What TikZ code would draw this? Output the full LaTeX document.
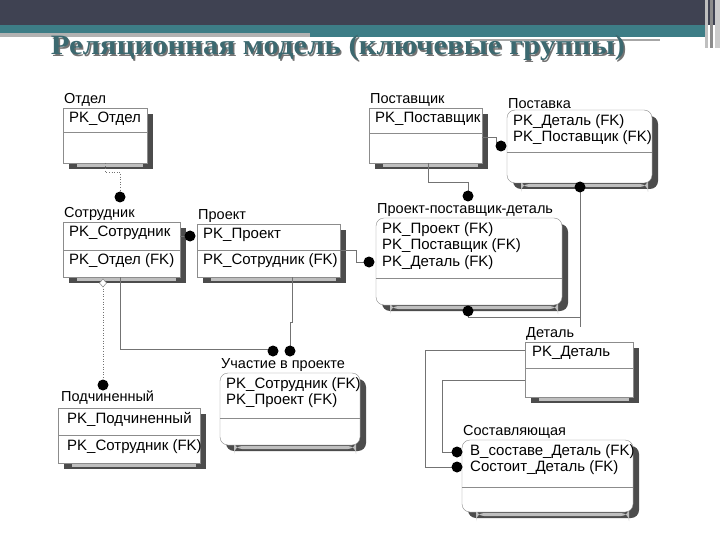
\documentclass[tikz,border=0pt]{standalone}
\usepackage{fontspec}
\setmainfont{Liberation Sans}
\newfontfamily\ttlfont{Liberation Serif}
\begin{document}
\begin{tikzpicture}[x=1pt,y=-1pt,
  lbl/.style={anchor=south west,inner sep=1pt,font=\fontsize{14.5}{16}\selectfont},
  attr/.style={anchor=north west,inner sep=1pt,align=left,font=\fontsize{15}{16.8}\selectfont},
  rel/.style={draw=black!55,line width=0.6pt},
  drel/.style={draw=black!55,line width=0.6pt,dotted},
  dotc/.style={fill=black}]
\useasboundingbox (0,0) rectangle (720,540);
\fill[white] (0,0) rectangle (720,540);
% header
\fill[fill={rgb,255:red,63;green,66;blue,82}] (0,0) rectangle (720,25);
\fill[fill={rgb,255:red,61;green,125;blue,134}] (0,25) rectangle (705,33);
\fill[black!30] (0,33) rectangle (310,37);
\fill[fill={rgb,255:red,61;green,125;blue,134}] (310,33) rectangle (705,37);
\draw[black!35,line width=1.5pt] (470,40) -- (660,40);
\fill[black!25] (705,0) rectangle (708,48);
\fill[black!45] (710,0) rectangle (713,48);
\fill[black!20] (715,0) rectangle (720,48);
\node[font=\ttlfont\bfseries\fontsize{28}{30}\selectfont,text=black!55,xscale=1.1] at (339.5,49.5) {Реляционная модель (ключевые группы)};
\node (title) [font=\ttlfont\bfseries\fontsize{28}{30}\selectfont,text={rgb,255:red,60;green,105;blue,112},xscale=1.1] at (338,48) {Реляционная модель (ключевые группы)};
% entity macro: #1 id #2 x1 #3 y1 #4 x2 #5 y2 #6 ydiv #7 corner
\newcommand\ent[7]{%
  \fill[black!70,rounded corners=#7] (#2+6,#3+6) rectangle (#4+6,#5+6);
  \fill[black!25,rounded corners=#7] (#2+14,#5+1) rectangle (#4-4,#5+4);
  \draw[black!45,fill=white,rounded corners=#7] (#2,#3) rectangle (#4,#5);
  \draw[black!45] (#2,#6) -- (#4,#6);
  \coordinate (#1) at (#2,#3);}
\ent{otd}{63}{108}{147}{163}{132}{0pt}
\node[lbl] (otdL) at (otd) {Отдел};
\node[attr] at ([shift={(5,3)}]otd) {PK\_Отдел};

\ent{sot}{63}{222}{180}{277}{250}{0pt}
\node[lbl] at (sot) {Сотрудник};
\node[attr] at ([shift={(5,3)}]sot) {PK\_Сотрудник};
\node[attr] at ([shift={(5,30)}]sot) {PK\_Отдел (FK)};

\ent{pro}{197}{224}{340}{277}{250}{0pt}
\node[lbl] at (pro) {Проект};
\node[attr] at ([shift={(5,3)}]pro) {PK\_Проект};
\node[attr] at ([shift={(5,28)}]pro) {PK\_Сотрудник (FK)};

\ent{pst}{369}{108}{482}{163}{133}{0pt}
\node[lbl] at (pst) {Поставщик};
\node[attr] at ([shift={(5,3)}]pst) {PK\_Поставщик};

\ent{pka}{507}{110}{652}{183}{152}{8pt}
\node[lbl] at (pka) {Поставка};
\node[attr] at ([shift={(5,3)}]pka) {PK\_Деталь (FK)\\PK\_Поставщик (FK)};

\ent{ppd}{376}{218}{562}{305}{278}{8pt}
\node[lbl] at (ppd) {Проект-поставщик-деталь};
\node[attr] at ([shift={(5,3)}]ppd) {PK\_Проект (FK)\\PK\_Поставщик (FK)\\PK\_Деталь (FK)};

\ent{uch}{220}{373}{360}{445}{418}{8pt}
\node[lbl] at (uch) {Участие в проекте};
\node[attr] at ([shift={(5,3)}]uch) {PK\_Сотрудник (FK)\\PK\_Проект (FK)};

\ent{pod}{58}{408}{200}{463}{435}{0pt}
\node[lbl] at ([shift={(2,-2)}]pod) {Подчиненный};
\node[attr] at ([shift={(8,3)}]pod) {PK\_Подчиненный};
\node[attr] at ([shift={(8,30)}]pod) {PK\_Сотрудник (FK)};

\ent{det}{525}{342}{633}{397}{368}{0pt}
\node[lbl] at (det) {Деталь};
\node[attr] at ([shift={(6,3)}]det) {PK\_Деталь};

\ent{sos}{462}{440}{633}{512}{487}{8pt}
\node[lbl] at (sos) {Составляющая};
\node[attr] at ([shift={(7,3)}]sos) {В\_составе\_Деталь (FK)\\Состоит\_Деталь (FK)};

% connectors
\draw[drel] (105,163) -- (105,172) -- (120,172) -- (120,192);
\fill[dotc] (120,197) circle (5.5);
\draw[rel] (180,236) -- (188,236);
\fill[dotc] (190,236) circle (5.5);
\draw[rel] (340,250) -- (356,250) -- (356,262) -- (364,262);
\fill[dotc] (369,262) circle (5.5);
\draw[rel] (482,137) -- (496,137) -- (496,146);
\fill[dotc] (501,146) circle (5.5);
\draw[rel] (428,163) -- (428,182) -- (468,182) -- (468,192);
\fill[dotc] (468,196) circle (5.5);
\draw[rel] (580,187) -- (580,327);
\fill[dotc] (580,187) circle (5.5);
\draw[rel] (468,311) -- (468,317) -- (580,317);
\fill[dotc] (468,311) circle (5.5);
\draw[rel] (120,277) -- (120,349) -- (268,349);
\fill[dotc] (273,351) circle (5.5);
\draw[rel] (292,277) -- (292,322) -- (290,322) -- (290,346);
\fill[dotc] (290,351) circle (5.5);
\draw[drel] (103,286) -- (103,380);
\draw[black!55,fill=white] (103,279) -- (106.5,283) -- (103,287) -- (99.5,283) -- cycle;
\fill[dotc] (103,385) circle (5.5);
\draw[rel] (525,350) -- (425,350) -- (425,467) -- (452,467);
\draw[rel] (525,380) -- (442,380) -- (442,452) -- (452,452);
\fill[dotc] (457,452) circle (5.5);
\fill[dotc] (457,467) circle (5.5);
\end{tikzpicture}
\end{document}
